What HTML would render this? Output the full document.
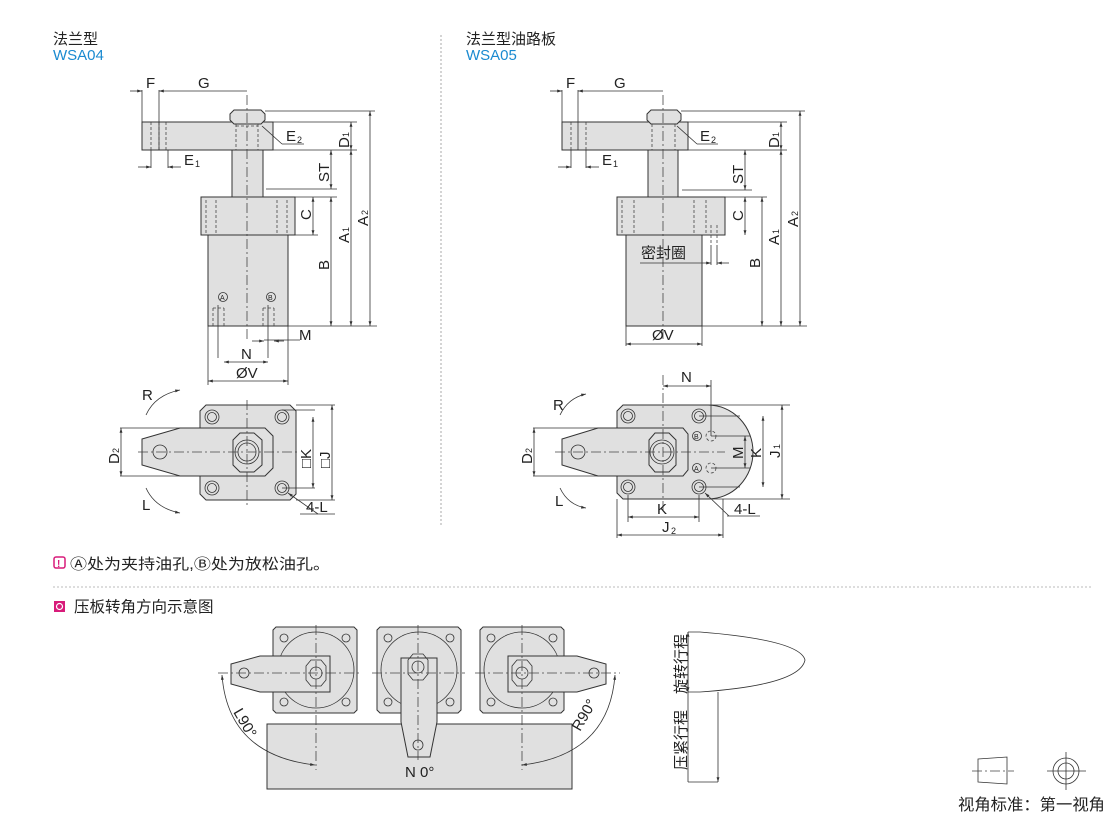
<!DOCTYPE html>
<html><head><meta charset="utf-8"><style>
body{margin:0;background:#fff;width:1110px;height:815px;overflow:hidden}
svg{display:block}
text{font-family:"Liberation Sans","Noto Sans CJK SC",sans-serif;fill:#222}
.f{fill:#e0e0e0;stroke:#333;stroke-width:1}
.l{stroke:#333;stroke-width:0.8;fill:none}
.d{stroke:#444;stroke-width:0.8;fill:none;stroke-dasharray:3,2}
.c{stroke:#444;stroke-width:0.8;fill:none;stroke-dasharray:10,3,2,3}
.t{font-size:15px}
</style></head><body>
<svg width="1110" height="815" viewBox="0 0 1110 815">
<defs>
<marker id="a" viewBox="0 0 10 10" refX="10" refY="5" markerWidth="9" markerHeight="6" orient="auto-start-reverse"><path d="M0,2L10,5L0,8z" fill="#333"/></marker>
</defs>
<text x="53" y="44" font-size="15">法兰型</text>
<text x="53" y="60" font-size="15" style="fill:#1a8ad0">WSA04</text>
<text x="466" y="44" font-size="15">法兰型油路板</text>
<text x="466" y="60" font-size="15" style="fill:#1a8ad0">WSA05</text>
<line x1="441" y1="35" x2="441" y2="525" stroke="#aaa" stroke-dasharray="2,2"/>

<g>
<rect class="f" x="142" y="122" width="131" height="28"/>
<rect class="f" x="208" y="235" width="80" height="91"/>
<rect class="f" x="201" y="197" width="94" height="38"/>
<rect class="f" x="232" y="150" width="31" height="47"/>
<path class="f" d="M230,114 L234,110 L261,110 L265,114 L265,120 L261,124 L234,124 L230,120Z"/>
<line class="c" x1="247" y1="95" x2="247" y2="340"/>
<path class="d" d="M151,122V150M166,122V150M159,122V150M236,124V150M258,124V150M236,126H258M206,200V235M216,200V235M277,200V235M287,200V235M213,308V326M224,308V326M263,308V326M274,308V326M213,308H224M263,308H274"/>
<line class="l" x1="218" y1="305" x2="218" y2="358"/><line class="l" x1="268" y1="305" x2="268" y2="358"/>
<circle class="l" cx="223" cy="297" r="4.5"/><text x="220" y="300" font-size="7">A</text>
<circle class="l" cx="271" cy="297" r="4.5"/><text x="268" y="300" font-size="7">B</text>
<line class="l" x1="142" y1="90" x2="142" y2="122"/><line class="l" x1="159" y1="90" x2="159" y2="150"/>
<line class="l" x1="130" y1="91" x2="142" y2="91" marker-end="url(#a)"/>
<line class="l" x1="159" y1="91" x2="247" y2="91" marker-start="url(#a)"/>
<text class="t" x="146" y="88">F</text><text class="t" x="198" y="88">G</text>
<line class="l" x1="151" y1="150" x2="151" y2="168"/><line class="l" x1="168" y1="150" x2="168" y2="168"/>
<line class="l" x1="138" y1="167" x2="151" y2="167" marker-end="url(#a)"/>
<line class="l" x1="181" y1="167" x2="168" y2="167" marker-end="url(#a)"/>
<text class="t" x="184" y="165">E</text><text x="195" y="167" font-size="9">1</text>
<line class="l" x1="262" y1="126" x2="282" y2="144"/><line class="l" x1="282" y1="144" x2="304" y2="144"/>
<text class="t" x="286" y="141">E</text><text x="297" y="143" font-size="9">2</text>
<path class="l" d="M265,111H375M273,122H357M273,150H357M266,189H337M295,197H337M295,235H318M288,326H377"/>
<line class="l" x1="370" y1="111" x2="370" y2="326" marker-start="url(#a)" marker-end="url(#a)"/>
<line class="l" x1="351" y1="150" x2="351" y2="326" marker-start="url(#a)" marker-end="url(#a)"/>
<line class="l" x1="351" y1="122" x2="351" y2="150" marker-start="url(#a)" marker-end="url(#a)"/>
<line class="l" x1="331" y1="150" x2="331" y2="189" marker-start="url(#a)" marker-end="url(#a)"/>
<line class="l" x1="331" y1="197" x2="331" y2="326" marker-start="url(#a)" marker-end="url(#a)"/>
<line class="l" x1="313" y1="197" x2="313" y2="235" marker-start="url(#a)" marker-end="url(#a)"/>
<text class="t" transform="translate(349,148) rotate(-90)">D</text><text font-size="9" transform="translate(349,137) rotate(-90)">1</text>
<text class="t" transform="translate(329,182) rotate(-90)">ST</text>
<text class="t" transform="translate(311,220) rotate(-90)">C</text>
<text class="t" transform="translate(329,270) rotate(-90)">B</text>
<text class="t" transform="translate(349,243) rotate(-90)">A</text><text font-size="9" transform="translate(349,232) rotate(-90)">1</text>
<text class="t" transform="translate(368,226) rotate(-90)">A</text><text font-size="9" transform="translate(368,215) rotate(-90)">2</text>
<path class="l" d="M208,326V385M288,326V385M264,340H300"/>
<line class="l" x1="252" y1="341" x2="264" y2="341" marker-end="url(#a)"/>
<line class="l" x1="284" y1="341" x2="274" y2="341" marker-end="url(#a)"/>
<text class="t" x="299" y="340">M</text>
<line class="l" x1="224" y1="362" x2="268" y2="362" marker-start="url(#a)" marker-end="url(#a)"/>
<text class="t" x="241" y="359">N</text>
<line class="l" x1="208" y1="381" x2="288" y2="381" marker-start="url(#a)" marker-end="url(#a)"/>
<text class="t" x="236" y="378">ØV</text>
</g>

<g>
<path class="f" d="M206,405H290L296,411V494L290,500H206L200,494V411Z"/>
<path class="f" d="M142,439L180,428H265L273,436V468L265,476H180L142,465Z"/>
<path class="f" d="M233,440L240,433H254L262,440V465L254,472H240L233,465Z"/>
<circle class="l" cx="247" cy="452" r="12"/><circle class="l" cx="247" cy="452" r="9"/>
<circle class="l" cx="160" cy="452" r="7"/>
<g class="l"><circle cx="212" cy="417" r="7"/><circle cx="212" cy="417" r="4.5"/><circle cx="282" cy="417" r="7"/><circle cx="282" cy="417" r="4.5"/><circle cx="212" cy="488" r="7"/><circle cx="212" cy="488" r="4.5"/><circle cx="282" cy="488" r="7"/><circle cx="282" cy="488" r="4.5"/></g>
<line class="c" x1="138" y1="452" x2="300" y2="452"/><line class="c" x1="247" y1="400" x2="247" y2="505"/>
<path class="l" d="M120,428H180M120,476H180M282,410H315M282,488H315M296,405H335M296,500H335"/>
<line class="l" x1="121" y1="428" x2="121" y2="476" marker-start="url(#a)" marker-end="url(#a)"/>
<line class="l" x1="313" y1="417" x2="313" y2="488" marker-start="url(#a)" marker-end="url(#a)"/>
<line class="l" x1="332" y1="405" x2="332" y2="500" marker-start="url(#a)" marker-end="url(#a)"/>
<text class="t" transform="translate(119,464) rotate(-90)">D</text><text font-size="9" transform="translate(119,453) rotate(-90)">2</text>
<text class="t" transform="translate(311,468) rotate(-90)">□K</text>
<text class="t" transform="translate(330,468) rotate(-90)">□J</text>
<line class="l" x1="318" y1="514" x2="288" y2="493" marker-end="url(#a)"/><line class="l" x1="300" y1="514" x2="335" y2="514"/>
<text class="t" x="306" y="512">4-L</text>
<path class="l" d="M146,415Q155,395 180,390" marker-end="url(#a)"/><text class="t" x="142" y="400">R</text>
<path class="l" d="M146,488Q155,508 180,513" marker-end="url(#a)"/><text class="t" x="142" y="510">L</text>
</g>

<g>
<rect class="f" x="562" y="122" width="126" height="28"/>
<rect class="f" x="626" y="235" width="76" height="91"/>
<rect class="f" x="617" y="197" width="108" height="38"/>
<rect class="f" x="648" y="150" width="30" height="47"/>
<path class="f" d="M647,114 L651,110 L677,110 L681,114 L681,120 L677,124 L651,124 L647,120Z"/>
<line class="c" x1="663" y1="95" x2="663" y2="340"/>
<path class="d" d="M571,122V150M586,122V150M652,124V150M675,124V150M622,200V235M634,200V235M694,200V235M706,200V235M711,225V245M717,225V245"/>
<line class="l" x1="578" y1="90" x2="578" y2="150"/><line class="l" x1="562" y1="90" x2="562" y2="122"/>
<line class="l" x1="550" y1="91" x2="562" y2="91" marker-end="url(#a)"/>
<line class="l" x1="578" y1="91" x2="663" y2="91" marker-start="url(#a)"/>
<text class="t" x="566" y="88">F</text><text class="t" x="614" y="88">G</text>
<line class="l" x1="571" y1="150" x2="571" y2="168"/><line class="l" x1="586" y1="150" x2="586" y2="168"/>
<line class="l" x1="558" y1="167" x2="571" y2="167" marker-end="url(#a)"/>
<line class="l" x1="599" y1="167" x2="586" y2="167" marker-end="url(#a)"/>
<text class="t" x="602" y="165">E</text><text x="613" y="167" font-size="9">1</text>
<line class="l" x1="677" y1="126" x2="697" y2="144"/><line class="l" x1="697" y1="144" x2="718" y2="144"/>
<text class="t" x="700" y="141">E</text><text x="711" y="143" font-size="9">2</text>
<path class="l" d="M681,111H805M688,122H787M688,150H787M682,190H752M725,197H767M702,326H807M711,245V265M717,245V265"/>
<line class="l" x1="800" y1="111" x2="800" y2="326" marker-start="url(#a)" marker-end="url(#a)"/>
<line class="l" x1="781" y1="150" x2="781" y2="326" marker-start="url(#a)" marker-end="url(#a)"/>
<line class="l" x1="781" y1="122" x2="781" y2="150" marker-start="url(#a)" marker-end="url(#a)"/>
<line class="l" x1="745" y1="150" x2="745" y2="190" marker-start="url(#a)" marker-end="url(#a)"/>
<line class="l" x1="762" y1="197" x2="762" y2="326" marker-start="url(#a)" marker-end="url(#a)"/>
<line class="l" x1="745" y1="197" x2="745" y2="235" marker-start="url(#a)" marker-end="url(#a)"/>
<text class="t" transform="translate(779,148) rotate(-90)">D</text><text font-size="9" transform="translate(779,137) rotate(-90)">1</text>
<text class="t" transform="translate(743,184) rotate(-90)">ST</text>
<text class="t" transform="translate(743,221) rotate(-90)">C</text>
<text class="t" transform="translate(760,268) rotate(-90)">B</text>
<text class="t" transform="translate(779,245) rotate(-90)">A</text><text font-size="9" transform="translate(779,234) rotate(-90)">1</text>
<text class="t" transform="translate(798,227) rotate(-90)">A</text><text font-size="9" transform="translate(798,216) rotate(-90)">2</text>
<text class="t" x="641" y="258">密封圈</text>
<line class="l" x1="640" y1="263" x2="711" y2="263" marker-end="url(#a)"/>
<line class="l" x1="729" y1="263" x2="717" y2="263" marker-end="url(#a)"/>
<path class="l" d="M626,326V346M702,326V346"/>
<line class="l" x1="626" y1="344" x2="702" y2="344" marker-start="url(#a)" marker-end="url(#a)"/>
<text class="t" x="652" y="340">ØV</text>
</g>

<g>
<path class="f" d="M623,405H708A45,47 0 0 1 708,499H623L617,493V411Z"/>
<path class="f" d="M562,439L598,428H683L688,434V470L683,476H598L562,465Z"/>
<path class="f" d="M649,440L655,433H669L676,440V465L669,472H655L649,465Z"/>
<circle class="l" cx="662" cy="452" r="12"/><circle class="l" cx="662" cy="452" r="9"/>
<circle class="l" cx="578" cy="452" r="7"/>
<g class="l"><circle cx="628" cy="416" r="7"/><circle cx="628" cy="416" r="4.5"/><circle cx="699" cy="416" r="7"/><circle cx="699" cy="416" r="4.5"/><circle cx="628" cy="487" r="7"/><circle cx="628" cy="487" r="4.5"/><circle cx="699" cy="487" r="7"/><circle cx="699" cy="487" r="4.5"/></g>
<circle class="l" cx="697" cy="436" r="4.5"/><text x="694" y="439" font-size="7">B</text>
<circle class="l" cx="697" cy="468" r="4.5"/><text x="694" y="471" font-size="7">A</text>
<circle class="d" cx="711" cy="436" r="5"/><circle class="d" cx="711" cy="468" r="5"/>
<line class="c" x1="555" y1="452" x2="725" y2="452"/><line class="c" x1="663" y1="375" x2="663" y2="510"/>
<path class="l" d="M533,428H598M533,476H598M711,380V436M711,436H750M711,468H750M699,416H740M699,487H740M700,405H790M700,499H790M617,499V538M723,499V538M628,495V522M699,495V522"/>
<line class="l" x1="663" y1="386" x2="711" y2="386" marker-start="url(#a)" marker-end="url(#a)"/>
<text class="t" x="681" y="382">N</text>
<line class="l" x1="534" y1="428" x2="534" y2="476" marker-start="url(#a)" marker-end="url(#a)"/>
<text class="t" transform="translate(532,464) rotate(-90)">D</text><text font-size="9" transform="translate(532,453) rotate(-90)">2</text>
<line class="l" x1="745" y1="436" x2="745" y2="468" marker-start="url(#a)" marker-end="url(#a)"/>
<text class="t" transform="translate(743,459) rotate(-90)">M</text>
<line class="l" x1="763" y1="416" x2="763" y2="487" marker-start="url(#a)" marker-end="url(#a)"/>
<text class="t" transform="translate(761,458) rotate(-90)">K</text>
<line class="l" x1="782" y1="405" x2="782" y2="499" marker-start="url(#a)" marker-end="url(#a)"/>
<text class="t" transform="translate(780,458) rotate(-90)">J</text><text font-size="9" transform="translate(780,449) rotate(-90)">1</text>
<line class="l" x1="628" y1="517" x2="699" y2="517" marker-start="url(#a)" marker-end="url(#a)"/>
<text class="t" x="657" y="514">K</text>
<line class="l" x1="617" y1="535" x2="723" y2="535" marker-start="url(#a)" marker-end="url(#a)"/>
<text class="t" x="662" y="532">J</text><text x="671" y="534" font-size="9">2</text>
<line class="l" x1="729" y1="516" x2="705" y2="493" marker-end="url(#a)"/><line class="l" x1="727" y1="516" x2="760" y2="516"/>
<text class="t" x="734" y="514">4-L</text>
<path class="l" d="M560,415Q568,398 586,394" marker-end="url(#a)"/><text class="t" x="553" y="410">R</text>
<path class="l" d="M560,488Q568,505 586,508" marker-end="url(#a)"/><text class="t" x="555" y="506">L</text>
</g>

<rect x="54" y="557" width="11" height="11" rx="2" fill="none" stroke="#d81b7a" stroke-width="1.5"/>
<text x="57" y="567" font-size="10" style="fill:#d81b7a;font-weight:bold">!</text>
<text x="70" y="569" font-size="15" textLength="260" lengthAdjust="spacingAndGlyphs">Ⓐ处为夹持油孔,Ⓑ处为放松油孔。</text>
<line x1="53" y1="587" x2="1092" y2="587" stroke="#bbb" stroke-dasharray="2,2"/>
<rect x="54" y="601" width="11" height="11" fill="#d81b7a"/><circle cx="59.5" cy="606.5" r="3" fill="none" stroke="#fff" stroke-width="1.2"/>
<text x="74" y="612" font-size="15.5">压板转角方向示意图</text>

<g>
<rect class="f" x="267" y="724" width="305" height="65"/>
<path class="f" d="M276,627H354L357,630V710L354,713H276L273,710V630Z"/>
<path class="f" d="M380,627H458L461,630V710L458,713H380L377,710V630Z"/>
<path class="f" d="M483,627H561L564,630V710L561,713H483L480,710V630Z"/>
<g class="l"><circle cx="316" cy="670" r="38"/><circle cx="419" cy="670" r="38"/><circle cx="522" cy="670" r="38"/>
<circle cx="284" cy="638" r="4"/><circle cx="346" cy="638" r="4"/><circle cx="284" cy="702" r="4"/><circle cx="346" cy="702" r="4"/>
<circle cx="388" cy="638" r="4"/><circle cx="450" cy="638" r="4"/><circle cx="388" cy="702" r="4"/><circle cx="450" cy="702" r="4"/>
<circle cx="491" cy="638" r="4"/><circle cx="553" cy="638" r="4"/><circle cx="491" cy="702" r="4"/><circle cx="553" cy="702" r="4"/></g>
<path class="f" d="M231,664L260,656H330V692H260L231,684Z"/>
<path class="f" d="M401,658H437V722L430,757H408L401,722Z"/>
<path class="f" d="M508,656H577L606,664V684L577,692H508Z"/>
<g class="l"><circle cx="244" cy="673" r="5"/><circle cx="418" cy="745" r="5"/><circle cx="594" cy="673" r="5"/>
<path d="M306,666L311,660H321L326,666V680L321,686H311L306,680Z"/><circle cx="316" cy="673" r="6"/>
<path d="M408,660L413,654H423L428,660V674L423,680H413L408,674Z"/><circle cx="418" cy="667" r="6"/>
<path d="M512,666L517,660H527L532,666V680L527,686H517L512,680Z"/><circle cx="522" cy="673" r="6"/></g>
<line class="c" x1="218" y1="673" x2="360" y2="673"/><line class="c" x1="372" y1="673" x2="465" y2="673"/><line class="c" x1="475" y1="673" x2="620" y2="673"/>
<line class="c" x1="316" y1="625" x2="316" y2="770"/><line class="c" x1="418" y1="625" x2="418" y2="760"/><line class="c" x1="522" y1="625" x2="522" y2="770"/>
<path class="l" d="M222,675Q228,755 315,765" marker-start="url(#a)" marker-end="url(#a)"/>
<path class="l" d="M615,675Q609,755 522,765" marker-start="url(#a)" marker-end="url(#a)"/>
<text class="t" transform="translate(233,712) rotate(60)">L90°</text>
<text class="t" transform="translate(580,732) rotate(-60)">R90°</text>
<text class="t" x="405" y="777">N 0°</text>
</g>

<g>
<path class="l" d="M688,632V782M688,632H700Q800,640 805,660Q800,685 700,692H688M688,782H718"/>
<line class="l" x1="718" y1="692" x2="718" y2="782" marker-end="url(#a)"/>
<line class="l" x1="688" y1="632" x2="688" y2="692" marker-start="url(#a)" marker-end="url(#a)"/>
<text font-size="15" transform="translate(686,694) rotate(-90)">旋转行程</text>
<text font-size="15" transform="translate(686,770) rotate(-90)">压紧行程</text>
</g>

<g class="l">
<path d="M978,759L1007,757V784L978,782Z"/><line class="c" x1="972" y1="771" x2="1014" y2="771"/>
<circle cx="1066" cy="771" r="13"/><circle cx="1066" cy="771" r="8"/>
<line x1="1047" y1="771" x2="1086" y2="771"/><line x1="1066" y1="752" x2="1066" y2="790"/>
</g>
<text x="958" y="810" font-size="16" textLength="147" lengthAdjust="spacingAndGlyphs">视角标准：第一视角</text>
</svg>
</body></html>
